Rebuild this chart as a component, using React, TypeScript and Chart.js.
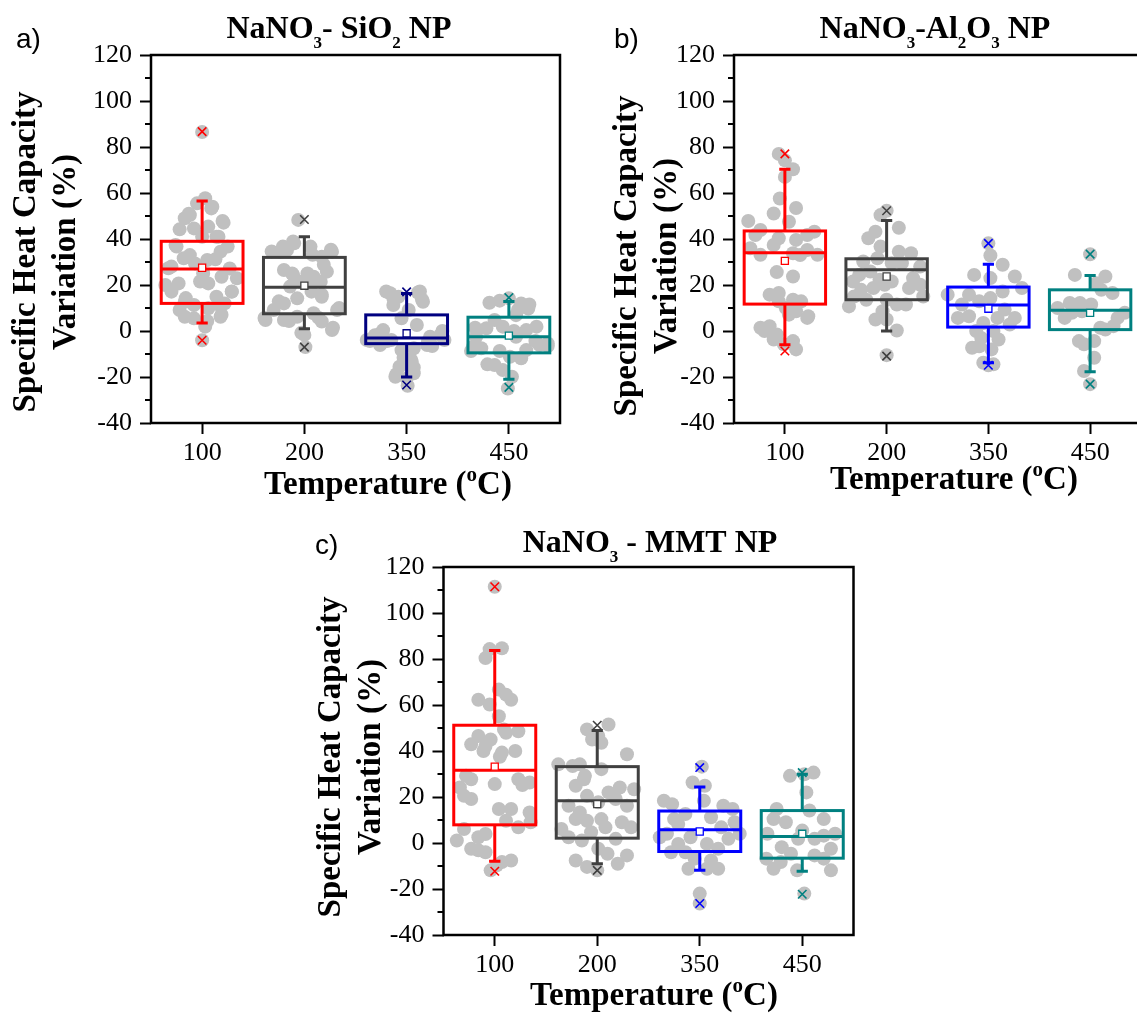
import React, { useEffect, useRef } from "react";
import { Chart, registerables } from "chart.js";

Chart.register(...registerables);

// ---------------- DATA ----------------
const CATEGORIES = ["100", "200", "350", "450"];
const Y_TICKS = [-40, -20, 0, 20, 40, 60, 80, 100, 120];
const Y_MINOR_TICKS = [-30, -10, 10, 30, 50, 70, 90, 110];

// box statistics: [lower whisker, Q1, median, Q3, upper whisker]
const SIO2_BOXES = [
  [3.5, 12, 27, 39, 56.5],
  [1, 7.5, 19, 32, 41],
  [-20, -5.5, -3, 7, 16.3],
  [-21, -9.5, -2.5, 6, 12.8],
];
const SIO2_MEANS = [27.5, 19.7, -1, -2];
const SIO2_EXTREMES = [[-4, 86.7], [-7, 48.5], [-23.5, 17], [-24.5, 14.5]];

const AL2O3_BOXES = [
  [-6, 11.7, 34, 43.5, 70.3],
  [0, 13.6, 26.6, 31.4, 48],
  [-13.8, 1.7, 11.3, 19.1, 29],
  [-17.7, 0.6, 9, 17.9, 24.1],
];
const AL2O3_MEANS = [30.5, 23.7, 9.7, 7.9];
const AL2O3_EXTREMES = [[-8.7, 77], [-10.9, 52.3], [-14.9, 38.1], [-23.1, 33.4]];

const MMT_BOXES = [
  [-7.9, 7.9, 31.6, 51.2, 83.7],
  [-9, 2.1, 18.4, 33.2, 48.9],
  [-11.9, -3.7, 5.8, 13.9, 24.4],
  [-12.3, -6.6, 2.8, 14.1, 29.9],
];
const MMT_MEANS = [33.2, 16.9, 5, 4];
const MMT_EXTREMES = [[-12.3, 111.4], [-11.9, 51.2], [-26.3, 32.8], [-22.3, 30.6]];

// raw points: [offset from category centre (in category units), value]
const SIO2_PTS_100 = [[0,86.5],[0.03,57.7],[-0.05,55.5],[0.09,53.3],[-0.12,50.4],[-0.17,49],[0.21,47.1],[-0.22,44.2],[-0.08,44.6],[0.06,45.4],[0.14,41],[0,41],[-0.25,36.7],[0.25,36.7],[0.18,34.5],[-0.12,33],[-0.18,31.6],[0.05,30.9],[0.13,31.2],[-0.3,28],[-0.07,29.4],[0.27,27.2],[0.01,25],[0.34,22.9],[0.19,23.6],[-0.36,20],[-0.23,20.7],[0.06,20.7],[-0.3,17.1],[0.29,17.1],[0.14,14.9],[-0.17,12.7],[-0.08,11.3],[0.22,12],[-0.22,9.1],[0.06,9.9],[-0.17,6.2],[-0.08,5.5],[0.18,6.2],[0.03,1.9],[0,-4],[-0.13,51],[0.1,54],[0.2,47.8],[-0.26,37.4],[0.16,41],[0.29,17.2],[-0.02,21.5],[-0.16,14.3],[0.19,7.1],[0.16,11.5],[-0.33,27.3],[0.05,4.3]];
const SIO2_PTS_200 = [[-0.06,48.3],[-0.1,38.1],[-0.11,38.9],[-0.23,34.5],[-0.17,35.2],[0.06,36.7],[0.27,34.5],[0.26,35.3],[-0.32,34.6],[0.17,32.3],[-0.2,26.5],[-0.12,25],[0.03,25],[0.09,23.6],[0.22,25.8],[-0.04,21.4],[0.16,21.4],[-0.14,19.3],[0.07,17.1],[0.17,14.9],[-0.07,14.2],[-0.2,12],[-0.3,9.1],[0.32,9.1],[0.34,10],[-0.38,4.8],[-0.39,5.7],[-0.2,4.8],[-0.07,6.2],[0.09,7.7],[0.17,4.1],[0.27,0.4],[0.28,1.4],[0,-1.7],[-0.03,-0.8],[0.01,-7],[-0.21,36.7],[0.08,33.1],[0.19,28.8],[-0.11,24.4],[0.07,21.5],[0.17,15.8],[-0.25,12.9],[0.14,5.7],[-0.15,4.3]];
const SIO2_PTS_350 = [[-0.16,16.4],[-0.08,14.9],[0.11,16.7],[0.16,12.7],[-0.13,11.3],[-0.2,17.2],[0.13,17.2],[0.15,13.7],[0.02,9.1],[-0.05,5.5],[0.1,2.6],[-0.23,0.4],[-0.31,-1.8],[-0.39,-3.9],[-0.36,-4.4],[-0.19,-4.4],[-0.15,-3.9],[0.23,-2.5],[0.33,-1.8],[0.37,-3.9],[0.35,0],[0.25,-6.5],[0.2,-6.1],[-0.26,-6.1],[-0.05,-8.3],[0.07,-7.5],[-0.02,-11.9],[0.04,-12.3],[0.05,-13.3],[-0.07,-15.5],[-0.1,-18.8],[-0.11,-19.9],[0,-20.6],[0.07,-18.4],[0.01,-23.8],[-0.13,14.3],[-0.27,-1.5],[0.21,-4.4],[-0.03,-11.6],[0.07,-15.9]];
const SIO2_PTS_450 = [[0,14.2],[-0.19,12.3],[-0.09,13.2],[0.12,12],[0.19,9.8],[0.2,11.5],[0.09,9.3],[0.07,6.9],[-0.14,4.8],[-0.22,1.2],[-0.06,1.9],[0.17,0.4],[0.27,1.9],[-0.32,-2.5],[0.07,-2.5],[0.3,-6.1],[0.38,-5.4],[0.38,-6.5],[-0.35,-6.8],[-0.27,-7.5],[-0.37,-8.7],[0.17,-8.3],[0.01,-11.2],[0.12,-11.9],[-0.14,-14.8],[-0.21,-14.5],[-0.06,-17],[0.03,-19.9],[-0.01,-25],[-0.33,1.4],[0.05,0],[0.26,-4.4],[-0.09,-8.7],[0.12,-11.6]];

const AL2O3_PTS_100 = [[-0.06,77],[0,74.2],[0.08,70.3],[0,67],[-0.05,57.6],[-0.11,51.1],[0.11,53.5],[-0.36,47.8],[0.04,47.5],[-0.24,43.9],[-0.29,41.7],[0.22,41.7],[0.29,43.2],[-0.06,40.3],[0.11,39.6],[-0.11,37.4],[-0.34,36],[0.32,33.1],[0.22,35.2],[0.08,33.8],[-0.24,33.1],[-0.08,25.6],[0.08,23.7],[-0.15,15.8],[0.08,13.6],[-0.06,12.9],[0.16,12.9],[0.01,10],[0.11,8.6],[0.23,6.4],[-0.24,1.4],[-0.15,2.1],[-0.08,-1.5],[-0.11,-3.7],[-0.01,-5.8],[0.11,-8],[0.15,33],[-0.06,16.5],[0.22,5.7],[0.04,7.1],[-0.2,0],[0.08,-4.4]];
const AL2O3_PTS_200 = [[0,52.3],[-0.06,50.4],[0.12,44.9],[-0.11,43.2],[-0.18,40.3],[-0.06,36.7],[0.24,33.8],[0.12,34.5],[-0.23,30.2],[0.05,29.5],[0.15,29.5],[0.33,28],[-0.33,21.5],[-0.16,25.9],[-0.07,22.3],[0.26,23],[-0.25,17.9],[-0.13,18.7],[-0.02,20.1],[0.36,15],[-0.32,15],[-0.2,13.6],[0.1,11.5],[-0.37,10.7],[0,13.6],[0.19,11.5],[-0.04,8.6],[-0.11,5],[0,5],[0.1,0.2],[0,-10.5],[-0.27,24.4],[0.22,18.7],[0.05,21.5],[-0.09,31.6],[0.33,20.1]];
const AL2O3_PTS_350 = [[0,38.1],[0.02,32.8],[0.14,28.8],[-0.14,24.4],[0.02,23],[0.26,23.7],[-0.4,15.8],[-0.19,15.8],[0.33,18.7],[0.14,17.2],[0.02,14.3],[-0.09,12.9],[-0.26,11.5],[0.16,9.3],[-0.19,6.4],[0.09,5.7],[0.21,2.8],[-0.05,3.5],[-0.12,0],[0.1,-3.7],[-0.07,-3],[-0.09,-6.6],[0.03,-8],[-0.05,-13.8],[0.05,-14.5],[0,-14.9],[-0.3,5.7],[0.26,5.7],[0.05,0],[-0.16,-7.3]];
const AL2O3_PTS_450 = [[0,33.4],[-0.15,24.4],[0.15,23.7],[0.06,20.8],[0.22,16.5],[0.11,17.9],[-0.32,10],[-0.2,12.2],[-0.1,12.2],[0.01,11.5],[-0.18,7.9],[-0.08,8.6],[0.34,7.9],[0.23,2.1],[0.15,0.6],[-0.06,-5.8],[0.04,-4.4],[0.04,-11.6],[-0.06,-17.4],[0,-23.1],[-0.25,5.7],[0.27,5.7],[0.1,1.4],[-0.11,-4.4]];

const MMT_PTS_100 = [[0,111.4],[-0.05,84.3],[0.07,84.7],[-0.09,80.4],[0.04,66.7],[-0.16,62.3],[0.11,64.5],[0.16,62.3],[-0.05,60.2],[0.04,55.1],[0.11,47.9],[-0.16,46.5],[-0.04,45],[0.23,48.6],[-0.23,42.9],[-0.11,40],[0.2,40],[0.05,37.5],[-0.28,29.2],[-0.23,27.7],[-0.34,24.1],[0,25.6],[0.27,25.2],[0.34,26.3],[-0.23,19.1],[0.04,14.8],[0.16,14.8],[0.11,9.7],[0.35,9],[0.23,6.8],[-0.3,6.1],[-0.09,3.9],[-0.16,2.5],[-0.37,1.1],[-0.16,-3.2],[-0.09,-4],[0.07,-8.3],[0.16,-7.6],[-0.04,-11.9],[0.09,49.4],[-0.09,42.2],[-0.3,20.5],[0.34,13.3],[-0.23,-2.5],[0.02,-9.7],[0.23,27.7],[0.07,39.3]];
const MMT_PTS_200 = [[0.11,51.5],[-0.1,49.4],[0.01,46.5],[0.04,43.6],[0.29,38.6],[-0.05,45],[-0.38,34.2],[-0.24,33.5],[-0.17,34.2],[0.04,32.1],[-0.12,29.2],[0.22,24.1],[0.36,23.4],[-0.21,24.9],[-0.1,20.5],[0.11,22],[0.18,19.1],[-0.28,16.2],[0.01,17.7],[-0.17,13.3],[-0.1,9.7],[0.24,9],[0.33,6.8],[-0.35,6.1],[0.08,6.8],[-0.06,4.7],[-0.28,2.5],[-0.15,1.1],[0.01,-2.5],[0.1,-4.7],[-0.21,-7.6],[0.2,-9],[-0.1,-10.4],[0,-11.9],[-0.13,27.7],[0.29,16.2],[-0.21,10.4],[0.18,1.8],[0.04,10.4],[0.29,-5.4]];
const MMT_PTS_350 = [[0.02,33.2],[-0.07,26.3],[0.05,24.9],[-0.35,18.4],[-0.27,16.9],[0.04,18.4],[0.23,16.2],[0.32,14.8],[-0.14,12.6],[0.11,11.2],[-0.21,8.3],[0.34,9],[0.21,6.8],[-0.39,2.5],[-0.32,4],[-0.09,2.5],[0.39,4],[-0.21,-0.4],[0.07,-0.4],[-0.14,-4],[-0.05,-6.8],[0.11,-7.6],[-0.11,-11.2],[0.18,-11.2],[0,-22],[0,-26.3],[-0.25,10.4],[0.28,1.8],[0.18,-2.5],[-0.28,-4],[0.07,-11.2]];
const MMT_PTS_450 = [[0.02,29.9],[-0.12,29.2],[0.11,30.6],[0.04,22],[-0.25,14.8],[0.07,14.1],[-0.16,9],[-0.34,4],[0,5.4],[0.32,4],[0.21,3.2],[0.12,1.8],[-0.2,-1.8],[-0.11,-4.7],[0.12,-5.4],[-0.35,-6.8],[0.21,-6.8],[-0.28,-11.2],[-0.05,-11.9],[0.28,-11.9],[0.02,-22],[-0.28,10.4],[0.21,10.4],[-0.04,1.8],[0.28,-2.5],[-0.21,-8.3]];

// ---------------- STYLE / LAYOUT ----------------
const SERIF = "'Liberation Serif', 'Times New Roman', serif";
const SANS = "'Liberation Sans', Arial, sans-serif";
const RED = "#ff0000";
const DGRAY = "#404040";
const NAVY = "#000080";
const BLUE = "#0000ff";
const TEAL = "#008080";
const POINT_GRAY = "#c0c0c0";
const BOX_HALF = 0.4;
const CAP_HALF = 0.055;
const Y_AXIS_W = 60;
const X_AXIS_H = 45;

type Run = [string, number];

const PANELS = [
  {
    key: "a",
    colors: [RED, DGRAY, NAVY, TEAL],
    boxes: SIO2_BOXES, means: SIO2_MEANS, extremes: SIO2_EXTREMES,
    points: [SIO2_PTS_100, SIO2_PTS_200, SIO2_PTS_350, SIO2_PTS_450],
    canvas: { left: 0, top: 0, width: 575, height: 510 },
    area: { left: 151, top: 55, right: 560, bottom: 423 },
    letter: { text: "a)", x: 16, y: 48 },
    title: { runs: [["NaNO", 0], ["3", 10], ["- SiO", 0], ["2", 10], [" NP", 0]] as Run[], cx: 339, y: 38 },
    yTitle: { x1: 35, x2: 75, cy: 252 },
    xTitle: { cx: 388, y: 494 },
  },
  {
    key: "b",
    colors: [RED, DGRAY, BLUE, TEAL],
    boxes: AL2O3_BOXES, means: AL2O3_MEANS, extremes: AL2O3_EXTREMES,
    points: [AL2O3_PTS_100, AL2O3_PTS_200, AL2O3_PTS_350, AL2O3_PTS_450],
    canvas: { left: 580, top: 0, width: 570, height: 510 },
    area: { left: 734, top: 55, right: 1141, bottom: 423 },
    letter: { text: "b)", x: 614, y: 48 },
    title: { runs: [["NaNO", 0], ["3", 10], ["-Al", 0], ["2", 10], ["O", 0], ["3", 10], [" NP", 0]] as Run[], cx: 935, y: 38 },
    yTitle: { x1: 636, x2: 676, cy: 256 },
    xTitle: { cx: 954, y: 489 },
  },
  {
    key: "c",
    colors: [RED, DGRAY, BLUE, TEAL],
    boxes: MMT_BOXES, means: MMT_MEANS, extremes: MMT_EXTREMES,
    points: [MMT_PTS_100, MMT_PTS_200, MMT_PTS_350, MMT_PTS_450],
    canvas: { left: 290, top: 515, width: 590, height: 500 },
    area: { left: 443.5, top: 567, right: 853.5, bottom: 935 },
    letter: { text: "c)", x: 315, y: 554 },
    title: { runs: [["NaNO", 0], ["3", 10], [" - MMT NP", 0]] as Run[], cx: 650, y: 552 },
    yTitle: { x1: 340, x2: 380, cy: 757 },
    xTitle: { cx: 654, y: 1005 },
  },
];

function drawRuns(ctx: CanvasRenderingContext2D, runs: Run[], cx: number, y: number, size: number, small: number) {
  const big = `bold ${size}px ${SERIF}`;
  const sm = `bold ${small}px ${SERIF}`;
  let total = 0;
  const widths = runs.map(([t, s]) => {
    ctx.font = s ? sm : big;
    const w = ctx.measureText(t).width;
    total += w;
    return w;
  });
  let x = cx - total / 2;
  ctx.textAlign = "left";
  ctx.textBaseline = "alphabetic";
  runs.forEach(([t, s], k) => {
    ctx.font = s ? sm : big;
    ctx.fillText(t, x, y + s);
    x += widths[k];
  });
}

const boxPlugin = {
  id: "boxes",
  afterDatasetDraw(chart: any, args: any, opts: any) {
    if (args.index !== 0) return;
    const { ctx } = chart;
    const xs = chart.scales.x;
    const ys = chart.scales.y;
    (opts.boxes as number[][]).forEach((s, i) => {
      const [lo, q1, med, q3, hi] = s;
      const xc = xs.getPixelForValue(i);
      const xl = xs.getPixelForValue(i - BOX_HALF);
      const xr = xs.getPixelForValue(i + BOX_HALF);
      const cl = xs.getPixelForValue(i - CAP_HALF);
      const cr = xs.getPixelForValue(i + CAP_HALF);
      const py = (v: number) => ys.getPixelForValue(v);
      ctx.save();
      ctx.strokeStyle = opts.colors[i];
      ctx.lineWidth = 3;
      ctx.beginPath();
      ctx.moveTo(xc, py(q3)); ctx.lineTo(xc, py(hi));
      ctx.moveTo(xc, py(q1)); ctx.lineTo(xc, py(lo));
      ctx.moveTo(cl, py(hi)); ctx.lineTo(cr, py(hi));
      ctx.moveTo(cl, py(lo)); ctx.lineTo(cr, py(lo));
      ctx.moveTo(xl, py(med)); ctx.lineTo(xr, py(med));
      ctx.stroke();
      ctx.strokeRect(xl, py(q3), xr - xl, py(q1) - py(q3));
      ctx.restore();
    });
  },
};

const framePlugin = {
  id: "frame",
  afterDraw(chart: any, _args: any, opts: any) {
    const { ctx, chartArea: a } = chart;
    const ys = chart.scales.y;
    const p = opts.panel;
    const ox = p.canvas.left;
    const oy = p.canvas.top;
    ctx.save();
    ctx.strokeStyle = "#000";
    ctx.lineWidth = 2.5;
    ctx.strokeRect(a.left, a.top, a.right - a.left, a.bottom - a.top);
    ctx.lineWidth = 2;
    ctx.beginPath();
    Y_MINOR_TICKS.forEach((v) => {
      const y = ys.getPixelForValue(v);
      ctx.moveTo(a.left, y);
      ctx.lineTo(a.left - 6, y);
    });
    ctx.stroke();

    ctx.fillStyle = "#000";
    ctx.font = `28px ${SANS}`;
    ctx.textAlign = "left";
    ctx.textBaseline = "alphabetic";
    ctx.fillText(p.letter.text, p.letter.x - ox, p.letter.y - oy);
    drawRuns(ctx, p.title.runs, p.title.cx - ox, p.title.y - oy, 32, 17);
    drawRuns(ctx, [["Temperature (", 0], ["o", -13], ["C)", 0]], p.xTitle.cx - ox, p.xTitle.y - oy, 33, 21);
    ctx.font = `bold 33px ${SERIF}`;
    ctx.textAlign = "center";
    ctx.textBaseline = "alphabetic";
    [["Specific Heat Capacity", p.yTitle.x1], ["Variation (%)", p.yTitle.x2]].forEach(([t, x]: any) => {
      ctx.save();
      ctx.translate(x - ox, p.yTitle.cy - oy);
      ctx.rotate(-Math.PI / 2);
      ctx.fillText(t, 0, 0);
      ctx.restore();
    });
    ctx.restore();
  },
};

function Panel({ p }: { p: (typeof PANELS)[number] }) {
  const ref = useRef<HTMLCanvasElement | null>(null);
  useEffect(() => {
    if (!ref.current) return;
    const c = p.canvas;
    const padding = {
      left: p.area.left - c.left - Y_AXIS_W,
      top: p.area.top - c.top,
      right: c.left + c.width - p.area.right,
      bottom: c.top + c.height - p.area.bottom - X_AXIS_H,
    };
    const gray = p.points.flatMap((pts, i) => pts.map(([dx, v]) => ({ x: i + dx, y: v })));
    const means = p.means.map((v, i) => ({ x: i, y: v }));
    const extremes = p.extremes.flatMap((e, i) => e.map((v) => ({ x: i, y: v })));
    const extremeColors = p.extremes.flatMap((e, i) => e.map(() => p.colors[i]));
    const tickFont = { family: SERIF, size: 26 };
    const chart = new Chart(ref.current, {
      type: "scatter",
      data: {
        datasets: [
          {
            data: gray, order: 1,
            pointRadius: 7, pointHoverRadius: 7,
            pointBackgroundColor: POINT_GRAY, pointBorderWidth: 0, pointBorderColor: POINT_GRAY,
          },
          {
            data: extremes, order: 0,
            pointStyle: "crossRot", pointRadius: 6, pointBorderWidth: 1.6,
            pointBorderColor: extremeColors,
          },
          {
            data: means, order: 0,
            pointStyle: "rect", pointRadius: 5, pointBorderWidth: 1.3,
            pointBackgroundColor: "#ffffff", pointBorderColor: p.colors,
          },
        ],
      },
      options: {
        responsive: false,
        animation: false,
        events: [],
        layout: { padding },
        plugins: {
          legend: { display: false },
          tooltip: { enabled: false },
          boxes: { boxes: p.boxes, colors: p.colors },
          frame: { panel: p },
        } as any,
        scales: {
          x: {
            type: "linear",
            min: -0.5,
            max: 3.5,
            afterBuildTicks: (s: any) => { s.ticks = CATEGORIES.map((_, i) => ({ value: i })); },
            afterFit: (s: any) => { s.height = X_AXIS_H; },
            border: { display: false },
            grid: { drawOnChartArea: false, drawTicks: true, tickLength: 11, tickColor: "#000", tickWidth: 2 },
            ticks: { color: "#000", font: tickFont, padding: 4, maxRotation: 0, autoSkip: false, callback: (v: any) => CATEGORIES[v] },
          },
          y: {
            min: -40,
            max: 120,
            afterBuildTicks: (s: any) => { s.ticks = Y_TICKS.map((v) => ({ value: v })); },
            afterFit: (s: any) => { s.width = Y_AXIS_W; },
            border: { display: false },
            grid: { drawOnChartArea: false, drawTicks: true, tickLength: 11, tickColor: "#000", tickWidth: 2 },
            ticks: { color: "#000", font: tickFont, padding: 8, callback: (v: any) => String(v) },
          },
        },
      } as any,
      plugins: [boxPlugin, framePlugin],
    });
    return () => chart.destroy();
  }, [p]);
  return (
    <canvas
      ref={ref}
      width={p.canvas.width}
      height={p.canvas.height}
      style={{ position: "absolute", left: p.canvas.left, top: p.canvas.top, width: p.canvas.width, height: p.canvas.height }}
    />
  );
}

export default function App() {
  return (
    <div style={{ position: "absolute", left: 0, top: 0, width: 1137, height: 1015, overflow: "hidden", background: "#fff" }}>
      {PANELS.map((p) => (
        <Panel key={p.key} p={p} />
      ))}
    </div>
  );
}
